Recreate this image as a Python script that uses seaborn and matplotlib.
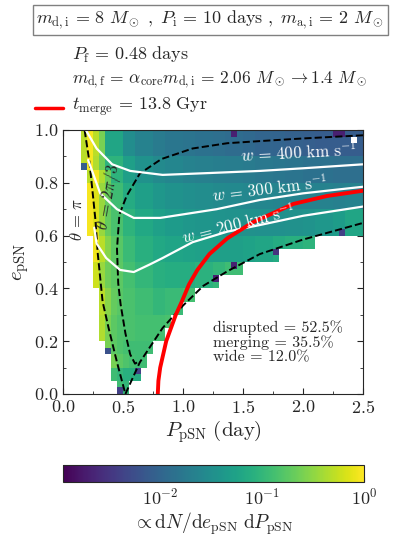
import numpy as np
import matplotlib
matplotlib.use('Agg')
import matplotlib.pyplot as plt
import seaborn as sns
from matplotlib.lines import Line2D
from matplotlib.ticker import MultipleLocator

sns.set_style('ticks')
plt.rcParams['font.family'] = 'serif'
plt.rcParams['font.serif'] = ['cmr10', 'DejaVu Serif']
plt.rcParams['mathtext.fontset'] = 'cm'
plt.rcParams['axes.unicode_minus'] = False
plt.rcParams['axes.formatter.use_mathtext'] = True

# bins of the histogram
dP, de = 0.05, 0.025
P_edges = np.round(np.arange(0, 2.5 + dP / 2, dP), 3)
e_edges = np.round(np.arange(0, 1.0 + de / 2, de), 3)

# occupied range per e band of 0.05 (bottom -> top)
left_edge = [0.45, 0.40, 0.40, 0.35, 0.30, 0.30, 0.30, 0.30, 0.25, 0.25,
             0.25, 0.25, 0.20, 0.20, 0.20, 0.20, 0.20, 0.15, 0.15, 0.15]
right_edge = [0.55, 0.65, 0.70, 0.75, 0.85, 0.90, 1.00, 1.10, 1.30, 1.50,
              1.80, 2.10, 2.50, 2.50, 2.50, 2.50, 2.50, 2.50, 2.50, 2.50]

# bright strip: first 4 cells from the left edge, per e band of 0.1
strip = [
    [0.12, 0.10, 0.08, 0.08],
    [0.25, 0.18, 0.15, 0.13],
    [0.45, 0.25, 0.18, 0.15],
    [0.50, 0.30, 0.20, 0.17],
    [0.60, 0.35, 0.22, 0.18],
    [0.85, 0.50, 0.28, 0.18],
    [0.90, 0.70, 0.35, 0.20],
    [0.90, 0.70, 0.35, 0.20],
    [0.50, 0.90, 0.45, 0.22],
    [0.50, 0.90, 0.50, 0.25],
]

# density per e band of 0.1 (rows) and P block of 0.125 (columns), 0 = unused
dens = [
    [0, 0, 0, 0.09, 0.07, 0.07] + [0] * 14,
    [0, 0, 0, 0.14, 0.12, 0.12] + [0] * 14,
    [0, 0, 0.17, 0.17, 0.14, 0.13, 0.13, 0.14] + [0] * 12,
    [0, 0, 0.18, 0.18, 0.14, 0.12, 0.10, 0.11, 0.13] + [0] * 11,
    [0, 0, 0.18, 0.18, 0.13, 0.10, 0.08, 0.075, 0.075, 0.085, 0.10, 0.12] + [0] * 8,
    [0, 0, 0.17, 0.17, 0.11, 0.08, 0.065, 0.058, 0.055, 0.052, 0.05, 0.05,
     0.055, 0.06, 0.07, 0.08, 0.09, 0.10, 0, 0],
    [0, 0, 0.15, 0.14, 0.09, 0.065, 0.052, 0.045, 0.04, 0.038, 0.036, 0.035,
     0.034, 0.033, 0.033, 0.034, 0.036, 0.04, 0.046, 0.06],
    [0, 0, 0.13, 0.12, 0.07, 0.05, 0.04, 0.035, 0.032, 0.03, 0.028, 0.027,
     0.026, 0.025, 0.024, 0.023, 0.022, 0.022, 0.021, 0.022],
    [0, 0.15, 0.15, 0.09, 0.05, 0.035, 0.028, 0.025, 0.022, 0.021, 0.02, 0.019,
     0.018, 0.017, 0.016, 0.015, 0.014, 0.014, 0.013, 0.013],
    [0, 0.12, 0.12, 0.06, 0.03, 0.022, 0.018, 0.016, 0.015, 0.014, 0.013, 0.012,
     0.011, 0.010, 0.0095, 0.009, 0.0085, 0.008, 0.008, 0.008],
]

# isolated cells (P low edge, e low edge, value); value 0 = empty
odd_P = [0.15, 0.35, 0.45, 0.60, 1.25, 1.40, 1.75, 2.30, 1.40, 2.25, 2.30, 2.40]
odd_e = [0.85, 0.15, 0.0, 0.075, 0.425, 0.475, 0.525, 0.60, 0.975, 0.975, 0.975, 0.95]
odd_v = [0.008, 0.006, 0.004, 0.004, 0.002, 0.002, 0.003, 0.004, 0.002, 0.002, 0.002, 0.0]

# curves
theta_pi_P = [0.18, 0.22, 0.25, 0.27, 0.29, 0.33, 0.38, 0.45, 0.52]
theta_pi_e = [1.0, 0.88, 0.75, 0.66, 0.53, 0.35, 0.25, 0.12, 0.0]
theta_23_P = [2.5, 2.0, 1.64, 1.37, 1.08, 0.82, 0.64, 0.53, 0.47, 0.45, 0.46,
              0.48, 0.52, 0.56, 0.60, 0.64]
theta_23_e = [0.98, 0.968, 0.958, 0.95, 0.93, 0.89, 0.835, 0.75, 0.68, 0.55,
              0.42, 0.34, 0.23, 0.15, 0.115, 0.125]
edge_P = [0.52, 0.64, 0.83, 1.0, 1.17, 1.37, 1.64, 2.0, 2.5]
edge_e = [0.0, 0.12, 0.25, 0.335, 0.41, 0.465, 0.53, 0.585, 0.648]
merge_P = [0.79, 0.795, 0.81, 0.835, 0.86, 0.90, 0.94, 0.99, 1.05, 1.12, 1.22,
           1.37, 1.58, 1.92, 2.2, 2.5]
merge_e = [0.0, 0.05, 0.10, 0.15, 0.2, 0.25, 0.30, 0.35, 0.415, 0.47, 0.53,
           0.59, 0.65, 0.72, 0.75, 0.77]
w400_P = [0.19, 0.28, 0.41, 0.56, 0.83, 1.22, 1.64, 2.0, 2.5]
w400_e = [1.0, 0.93, 0.87, 0.845, 0.83, 0.837, 0.845, 0.855, 0.87]
w300_P = [0.21, 0.31, 0.45, 0.59, 0.81, 1.28, 1.64, 2.0, 2.5]
w300_e = [0.886, 0.76, 0.70, 0.667, 0.667, 0.70, 0.735, 0.76, 0.785]
w200_P = [0.26, 0.28, 0.36, 0.475, 0.59, 0.72, 0.83, 1.08, 1.37, 1.64, 2.0, 2.5]
w200_e = [0.63, 0.57, 0.515, 0.47, 0.462, 0.49, 0.515, 0.575, 0.615, 0.64, 0.675, 0.71]

# build the cell list
odd = {(round(p, 3), round(e, 3)): v for p, e, v in zip(odd_P, odd_e, odd_v)}
xs, ys, ws = [], [], []
for j, e0 in enumerate(e_edges[:-1]):
    band = j // 2
    big = j // 4
    lo, hi = left_edge[band], right_edge[band]
    for p0 in P_edges[:-1]:
        if p0 < lo - 1e-9 or p0 > hi - dP + 1e-9:
            continue
        k = int(round((p0 - lo) / dP))
        col = min(int((p0 + dP / 2) / 0.125), 19)
        v = strip[big][k] if k < 4 else dens[big][col]
        key = (round(float(p0), 3), round(float(e0), 3))
        if key in odd:
            v = odd[key]
        if v <= 0:
            continue
        xs.append(p0 + dP / 2)
        ys.append(e0 + de / 2)
        ws.append(v)

fig = plt.figure(figsize=(3.95, 5.41), dpi=100)
ax = fig.add_axes([63 / 395, 1 - 394 / 541, 300 / 395, 264 / 541])
cax = fig.add_axes([63 / 395, 1 - 482 / 541, 301 / 395, 17 / 541])

sns.histplot(x=xs, y=ys, weights=ws, bins=[P_edges, e_edges], cmap='viridis',
             norm='log', vmin=1.1e-3, vmax=1.0, cbar=False, ax=ax)
mesh = ax.collections[0]

ax.plot(theta_pi_P, theta_pi_e, 'k--', lw=1.4)
ax.plot(theta_23_P, theta_23_e, 'k--', lw=1.4)
ax.plot(edge_P, edge_e, 'k--', lw=1.4)
for px, py in [(w400_P, w400_e), (w300_P, w300_e), (w200_P, w200_e)]:
    ax.plot(px, py, color='white', lw=1.6)
ax.plot(merge_P, merge_e, color='red', lw=2.8)

ax.text(1.96, 0.915, r'$w \,=\, 400\ \mathrm{km\ s^{-1}}$', color='white', fontsize=12,
        ha='center', va='center', rotation=3)
ax.text(1.72, 0.78, r'$w \,=\, 300\ \mathrm{km\ s^{-1}}$', color='white', fontsize=12,
        ha='center', va='center', rotation=7)
ax.text(1.46, 0.645, r'$w \,=\, 200\ \mathrm{km\ s^{-1}}$', color='white', fontsize=12,
        ha='center', va='center', rotation=14)
ax.text(0.115, 0.66, r'$\theta \,=\, \pi$', fontsize=12, ha='center', va='center', rotation=90)
ax.text(0.385, 0.745, r'$\theta \,=\, 2\pi/3$', fontsize=12, ha='center', va='center',
        rotation=80)
ax.text(1.25, 0.28, 'disrupted = 52.5%\nmerging = 35.5%\nwide = 12.0%',
        fontsize=11.5, ha='left', va='top', linespacing=1.05)

ax.set_xlim(0, 2.5)
ax.set_ylim(0, 1.0)
ax.xaxis.set_major_locator(MultipleLocator(0.5))
ax.xaxis.set_minor_locator(MultipleLocator(0.25))
ax.yaxis.set_major_locator(MultipleLocator(0.2))
ax.yaxis.set_minor_locator(MultipleLocator(0.1))
ax.tick_params(which='both', direction='in', top=True, right=True, labelsize=13)
ax.tick_params(which='major', length=4)
ax.tick_params(which='minor', length=2.5)
ax.set_xlabel(r'$P_{\mathrm{pSN}}\ (\mathrm{day})$', fontsize=15, labelpad=2)
ax.set_ylabel(r'$e_{\mathrm{pSN}}$', fontsize=15, labelpad=2)

cb = fig.colorbar(mesh, cax=cax, orientation='horizontal')
cax.tick_params(which='both', direction='in', labelsize=13)
cb.set_label(r'$\propto \mathrm{d}N/\mathrm{d}e_{\mathrm{pSN}}\ \mathrm{d}P_{\mathrm{pSN}}$',
             fontsize=14, labelpad=2)

# header and legend-like lines
fig.text(0.532, 0.963,
         r'$m_{\mathrm{d,i}} \,=\, 8\ M_\odot\ ,\ P_{\mathrm{i}} \,=\, 10\ \mathrm{days}\ ,\ '
         r'm_{\mathrm{a,i}} \,=\, 2\ M_\odot$',
         fontsize=13, ha='center', va='center',
         bbox=dict(boxstyle='square,pad=0.2', fc='white', ec='0.5', lw=1))
fig.text(0.182, 0.898, r'$P_{\mathrm{f}} \,=\, 0.48\ \mathrm{days}$', fontsize=13, va='center')
fig.text(0.182, 0.852,
         r'$m_{\mathrm{d,f}} \,=\, \alpha_{\mathrm{core}} m_{\mathrm{d,i}} \,=\, 2.06\ M_\odot \rightarrow 1.4\ M_\odot$',
         fontsize=12.5, va='center')
fig.text(0.182, 0.804, r'$t_{\mathrm{merge}} \,=\, 13.8\ \mathrm{Gyr}$', fontsize=13, va='center')
fig.add_artist(Line2D([35 / 395, 63 / 395], [0.800, 0.800], color='red', lw=2.5))

fig.savefig('out.png', dpi=100)
